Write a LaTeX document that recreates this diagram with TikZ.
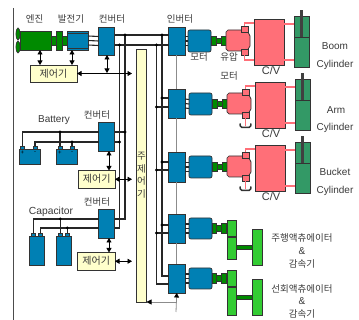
\documentclass[tikz,border=0pt]{standalone}
\usepackage{fontspec}
\setmainfont{Liberation Sans}
\newfontfamily\krf{Noto Sans CJK KR}
\usetikzlibrary{arrows.meta,shapes.geometric}
\definecolor{bluebox}{HTML}{0080B4}
\definecolor{pinkbox}{HTML}{FF6F78}
\definecolor{dkgreen}{HTML}{008A00}
\definecolor{ltgreen}{HTML}{33CC33}
\definecolor{cylgreen}{HTML}{339966}
\definecolor{yellowbox}{HTML}{FFFFCC}
\definecolor{edgec}{HTML}{333333}
\definecolor{txtc}{HTML}{3A3A3A}
\tikzset{
  x=1pt,y=-1pt,
  base/.style={draw=edgec,line width=0.7pt,inner sep=0pt,outer sep=0pt,anchor=center},
  bluenode/.style={base,fill=bluebox},
  pinknode/.style={base,fill=pinkbox},
  dgnode/.style={base,fill=dkgreen},
  lgnode/.style={base,fill=ltgreen},
  cylnode/.style={base,fill=cylgreen},
  ctrlnode/.style={base,fill=yellowbox,font=\krf\fontsize{10}{12}\selectfont,text=txtc},
  lab/.style={font=\krf\fontsize{9.5}{11}\selectfont,text=txtc,inner sep=0pt},
  lat/.style={font=\fontsize{10}{12}\selectfont,text=txtc,inner sep=0pt},
  bus/.style={line width=1.2pt,draw=black!85},
  wire/.style={line width=1.1pt,draw=black!85},
  pinkline/.style={line width=1.3pt,draw=pinkbox},
  greyline/.style={line width=0.8pt,draw=black!45},
  dbl/.style={line width=0.8pt,draw=black,{Triangle[length=4.5pt,width=5pt]}-{Triangle[length=4.5pt,width=5pt]}},
}
\newcommand\bx[6]{\node[#2,minimum width={((#5)-(#3))*1pt},minimum height={((#6)-(#4))*1pt}] (#1) at ({((#3)+(#5))/2},{((#4)+(#6))/2}) {};}
\newcommand\bxt[7]{\node[#2,minimum width={((#5)-(#3))*1pt},minimum height={((#6)-(#4))*1pt}] (#1) at ({((#3)+(#5))/2},{((#4)+(#6))/2}) {#7};}
\begin{document}
\begin{tikzpicture}
\useasboundingbox (0,0) rectangle (359,320);
\fill[white] (0,0) rectangle (359,320);
% left rule
\coordinate (ruleT) at (13.5,8);
\coordinate (ruleB) at (13.5,320);
\draw[line width=0.8pt,draw=black!70] (ruleT) -- (ruleB);

% bus reference coordinates
\coordinate (yA) at (0,35); \coordinate (yB) at (0,45);
\coordinate (xC) at (125,0); \coordinate (xD) at (119.5,0);
\coordinate (xE) at (162,0); \coordinate (xF) at (156.5,0);
\coordinate (c2a) at (0,132); \coordinate (c2b) at (0,142);
\coordinate (c3a) at (0,219); \coordinate (c3b) at (0,228);
\coordinate (i2a) at (0,98); \coordinate (i2b) at (0,107);
\coordinate (i3a) at (0,162); \coordinate (i3b) at (0,170);
\coordinate (i4a) at (0,225); \coordinate (i4b) at (0,233);
\coordinate (i5a) at (0,276); \coordinate (i5b) at (0,284);

% engine group
\node[base,fill=dkgreen,ellipse,minimum width=4pt,minimum height=12pt] (prop1) at (18,34) {};
\node[base,fill=dkgreen,ellipse,minimum width=4pt,minimum height=12pt] (prop2) at (18,47) {};
\bx{engine}{dgnode}{20}{31}{51}{50}
\bx{shaft}{dgnode}{51}{36}{67}{45}
\bx{flange}{dgnode}{56}{31}{62}{50}
\bx{gen}{bluenode}{67}{31}{88}{50}
\draw[line width=0.7pt,draw=edgec] ([yshift=-2pt]gen.north west) -- ([yshift=-2pt]gen.north east);
\draw[line width=0.7pt,draw=edgec] ([yshift=2pt]gen.south west) -- ([yshift=2pt]gen.south east);

% converters & inverters
\bx{conv1}{bluenode}{98.5}{27}{114.5}{55}
\bx{conv2}{bluenode}{98.5}{122}{114.5}{151}
\bx{conv3}{bluenode}{98.5}{209}{114.5}{238}
\bx{inv1}{bluenode}{168.5}{27}{185}{55}
\bx{inv2}{bluenode}{168.5}{89}{185}{118}
\bx{inv3}{bluenode}{168.5}{152}{185}{182}
\bx{inv4}{bluenode}{168.5}{214}{185}{243}
\bx{inv5}{bluenode}{168.5}{264}{185}{293}

% generator to converter
\foreach \s in {-4.5,0,4.5} \draw[wire] ([yshift=\s pt]gen.east) -- ([yshift=\s pt]conv1.west);

% main controller
\bx{main}{base,fill=yellowbox}{136.5}{49}{146.5}{302}
\node[lab] (mt1) at (141.5,156) {주};
\node[lab] (mt2) at (141.5,169) {제};
\node[lab] (mt3) at (141.5,181) {어};
\node[lab] (mt4) at (141.5,194) {기};

% controllers
\bxt{ctrl1}{ctrlnode}{30}{65}{77}{82}{제어기}
\bxt{ctrl2}{ctrlnode}{78.5}{170.5}{115}{188}{제어기}
\bxt{ctrl3}{ctrlnode}{77.5}{252.5}{115}{270}{제어기}

% buses
\draw[bus] (conv1.east |- yA) -- (inv1.west |- yA);
\draw[bus] (conv1.east |- yB) -- (inv1.west |- yB);
\draw[bus] (xC |- yA) -- (xC |- c3a) -- (conv3.east |- c3a);
\draw[bus] (xD |- yB) -- (xD |- c3b) -- (conv3.east |- c3b);
\draw[bus] (conv2.east |- c2a) -- (xC |- c2a);
\draw[bus] (conv2.east |- c2b) -- (xD |- c2b);
\draw[bus] (xE |- yA) -- (xE |- i5a) -- (inv5.west |- i5a);
\draw[bus] (xF |- yB) -- (xF |- i5b) -- (inv5.west |- i5b);
\foreach \n/\a/\b in {inv2/i2a/i2b,inv3/i3a/i3b,inv4/i4a/i4b}{
  \draw[bus] (\n.west |- \a) -- (xE |- \a);
  \draw[bus] (\n.west |- \b) -- (xF |- \b);
  \fill (xE |- \a) circle (1.7);
  \fill (xF |- \b) circle (1.7);
}
\fill (xC |- yA) circle (1.7);
\fill (xD |- yB) circle (1.7);
\fill (xE |- yA) circle (1.7);
\fill (xF |- yB) circle (1.7);
\fill (xC |- c2a) circle (1.7);
\fill (xD |- c2b) circle (1.7);

% grey control line
\coordinate (gb) at (176,312);
\coordinate (gt) at (176,302);
\draw[greyline] (inv1.south) -- (inv2.north);
\draw[greyline] (inv2.south) -- (inv3.north);
\draw[greyline] (inv3.south) -- (inv4.north);
\draw[greyline] (inv4.south) -- (inv5.north);
\draw[greyline,-{Triangle[length=4.5pt,width=5pt,black]}] (gb) -- (inv5.south);
\draw[greyline,-{Triangle[length=5pt,width=5pt,black]}] (gt) -- (main.east |- gt);

% control arrows
\coordinate (a1) at (40,50); \coordinate (a2) at (72,50);
\draw[dbl] (a1) -- (a1 |- ctrl1.north);
\draw[dbl] (a2) -- (a2 |- ctrl1.north);
\coordinate (a3) at (107,55);
\draw[dbl] (a3) -- (a3 |- 0,73);
\coordinate (a4) at (109,151);
\draw[dbl] (a4) -- (a4 |- ctrl2.north);
\coordinate (a5) at (109,238);
\draw[dbl] (a5) -- (a5 |- ctrl3.north);
\draw[dbl,shorten >=4.5pt] (ctrl1.east) -- (ctrl1.east -| main.west);
\draw[dbl,shorten >=4.5pt] (ctrl2.east) -- (ctrl2.east -| main.west);
\draw[dbl,shorten >=4.5pt] (ctrl3.east) -- (ctrl3.east -| main.west);

% batteries
\bx{bat1}{bluenode}{19}{149}{40.5}{164}
\bx{bat2}{bluenode}{56}{149}{77.5}{164}
\bx{t1a}{bluenode}{20.5}{146}{24.5}{149}
\bx{t1b}{bluenode}{33}{146}{37}{149}
\bx{t2a}{bluenode}{58}{146}{62}{149}
\bx{t2b}{bluenode}{70}{146}{74}{149}
\foreach \n/\x in {m1/22.5,m3/60}{\node[inner sep=0pt,font=\fontsize{6}{6}\selectfont,text=black] (\n) at (\x,152.5) {+};}
\foreach \n/\x in {m2/35,m4/72}{\node[inner sep=0pt,font=\fontsize{6}{6}\selectfont,text=black] (\n) at (\x,152.5) {-};}
\draw[wire] (conv2.west |- c2a) -| (t1a.north);
\draw[wire] (conv2.west |- c2b) -| (t1b.north);
\draw[wire] (t2a.north) -- (t2a.north |- c2a);
\draw[wire] (t2b.north) -- (t2b.north |- c2b);
\fill (t2a.north |- c2a) circle (1.5);
\fill (t2b.north |- c2b) circle (1.5);

% capacitors
\bx{cap1}{bluenode}{29}{236}{44}{265}
\bx{cap2}{bluenode}{56}{236}{71}{265}
\bx{k1a}{bluenode}{31}{233}{35.5}{236}
\bx{k1b}{bluenode}{38}{233}{42.5}{236}
\bx{k2a}{bluenode}{58}{233}{62.5}{236}
\bx{k2b}{bluenode}{65}{233}{69.5}{236}
\draw[wire] (conv3.west |- c3a) -| (k1a.north);
\draw[wire] (conv3.west |- c3b) -| (k1b.north);
\draw[wire] (k2a.north) -- (k2a.north |- c3a);
\draw[wire] (k2b.north) -- (k2b.north |- c3b);
\fill (k2a.north |- c3a) circle (1.5);
\fill (k2b.north |- c3b) circle (1.5);

% actuator rows
\foreach \r/\dx/\dy/\inv in {1/0/0/inv1,2/1/63/inv2,3/1/126/inv3}{
  \bx{mot\r}{base,fill=bluebox,rounded corners=2pt}{188+\dx}{30+\dy}{211+\dx}{52+\dy}
  \foreach \s in {-4.5,0,4.5} \draw[wire] ([yshift=\s pt]\inv.east) -- ([yshift=\s pt]mot\r.west);
  \bx{cl\r}{dgnode}{216+\dx}{38+\dy}{221+\dx}{43+\dy}
  \bx{cla\r}{dgnode}{211+\dx}{36+\dy}{216+\dx}{45+\dy}
  \bx{clb\r}{dgnode}{221+\dx}{36+\dy}{226+\dx}{45+\dy}
  \draw[base,fill=pinkbox] (228+\dx,30+\dy) -- (247+\dx,30+\dy) -- (250+\dx,36+\dy) -- (250+\dx,46+\dy) -- (247+\dx,51+\dy) -- (228+\dx,51+\dy) -- (226+\dx,49+\dy) -- (226+\dx,32+\dy) -- cycle;
  \bx{sqa\r}{pinknode}{241+\dx}{26+\dy}{248+\dx}{32+\dy}
  \bx{sqb\r}{pinknode}{241+\dx}{49+\dy}{248+\dx}{55+\dy}
  \bx{cv\r}{pinknode}{254+\dx}{19+\dy}{284+\dx}{65+\dy}
  \bx{cyb\r}{cylnode}{294+\dx}{37+\dy}{309+\dx}{67+\dy}
  \bx{cyt\r}{cylnode}{294+\dx}{16+\dy}{309+\dx}{37+\dy}
  \draw[line width=2.6pt,draw=black!75] (cyt\r.south) -- ++(0,-27);
  \draw[pinkline] (sqa\r.north) |- ([yshift=-4pt]cv\r.north west);
  \draw[pinkline] ([yshift=-5pt]cv\r.north east) -- ([yshift=-8pt]cyt\r.north west);
  \draw[pinkline] ([yshift=5pt]cv\r.south east) -- ([yshift=7pt]cyb\r.south west);
}
\draw[pinkline] (sqb1.south) |- ([yshift=5pt]cv1.south west);
\foreach \r/\yy in {2/126,3/189}{
  \coordinate (tank\r) at (245.5,\yy);
  \draw[pinkline] (sqb\r.south) -- (tank\r);
  \draw[line width=1.5pt,draw=black!80,rounded corners=1.5pt] ([xshift=-5.5pt,yshift=2.5pt]tank\r) -- ([xshift=-5pt,yshift=-1.5pt]tank\r) -- ([xshift=5pt,yshift=-1.5pt]tank\r) -- ([xshift=5.5pt,yshift=2.5pt]tank\r);
}

% travel / swing rows
\foreach \r/\dy/\inv/\ym/\yd/\ye in {4/0/inv4/236/259/265,5/50/inv5/286/315/315}{
  \bx{mot\r}{base,fill=bluebox,rounded corners=2pt}{189}{218+\dy}{212}{239+\dy}
  \foreach \s in {-4.5,0,4.5} \draw[wire] ([yshift=\s pt]\inv.east) -- ([yshift=\s pt]mot\r.west);
  \bx{cl\r}{dgnode}{216}{225+\dy}{221}{231+\dy}
  \bx{cla\r}{dgnode}{212}{223+\dy}{216}{233+\dy}
  \bx{clb\r}{dgnode}{221}{223+\dy}{226}{233+\dy}
  \bx{ga\r}{lgnode}{227}{220+\dy}{236}{\ym}
  \bx{gb\r}{lgnode}{227}{\ym+1}{236}{\yd}
  \bx{gc\r}{lgnode}{252}{229+\dy}{262}{\ye}
  \bx{gs\r}{dgnode}{236}{245+\dy}{252}{249+\dy}
}

% labels
\node[lab] (l1) at (34.5,19) {엔진};
\node[lab] (l2) at (71,19) {발전기};
\node[lab] (l3) at (112,19) {컨버터};
\node[lab] (l4) at (180,19) {인버터};
\node[lab] (l5) at (199,57) {모터};
\node[lab] (l6) at (229,57) {유압};
\node[lab] (l7) at (229,76) {모터};
\node[lab] (l8) at (97,115) {컨버터};
\node[lab] (l9) at (97,202) {컨버터};
\node[lat] (b1) at (54,120) {Battery};
\node[lat,font=\fontsize{10.3}{12}\selectfont] (b2) at (51,212) {Capacitor};
\node[lat,font=\fontsize{11}{12}\selectfont] (c1) at (271,71) {C/V};
\node[lat,font=\fontsize{11}{12}\selectfont] (c2) at (271,134) {C/V};
\node[lat,font=\fontsize{11}{12}\selectfont] (c3) at (271,197) {C/V};
\node[lat] (n1) at (335,46) {Boom};
\node[lat] (n2) at (335,65) {Cylinder};
\node[lat] (n3) at (336,110) {Arm};
\node[lat] (n4) at (335,128) {Cylinder};
\node[lat] (n5) at (335,172) {Bucket};
\node[lat] (n6) at (335,191) {Cylinder};
\node[lab] (r1) at (302,238) {주행액츄에이터};
\node[lat] (r2) at (302,251) {\&};
\node[lab] (r3) at (302,264) {감속기};
\node[lab] (r4) at (302,289) {선회액츄에이터};
\node[lat] (r5) at (302,301) {\&};
\node[lab] (r6) at (302,314) {감속기};
\end{tikzpicture}
\end{document}
